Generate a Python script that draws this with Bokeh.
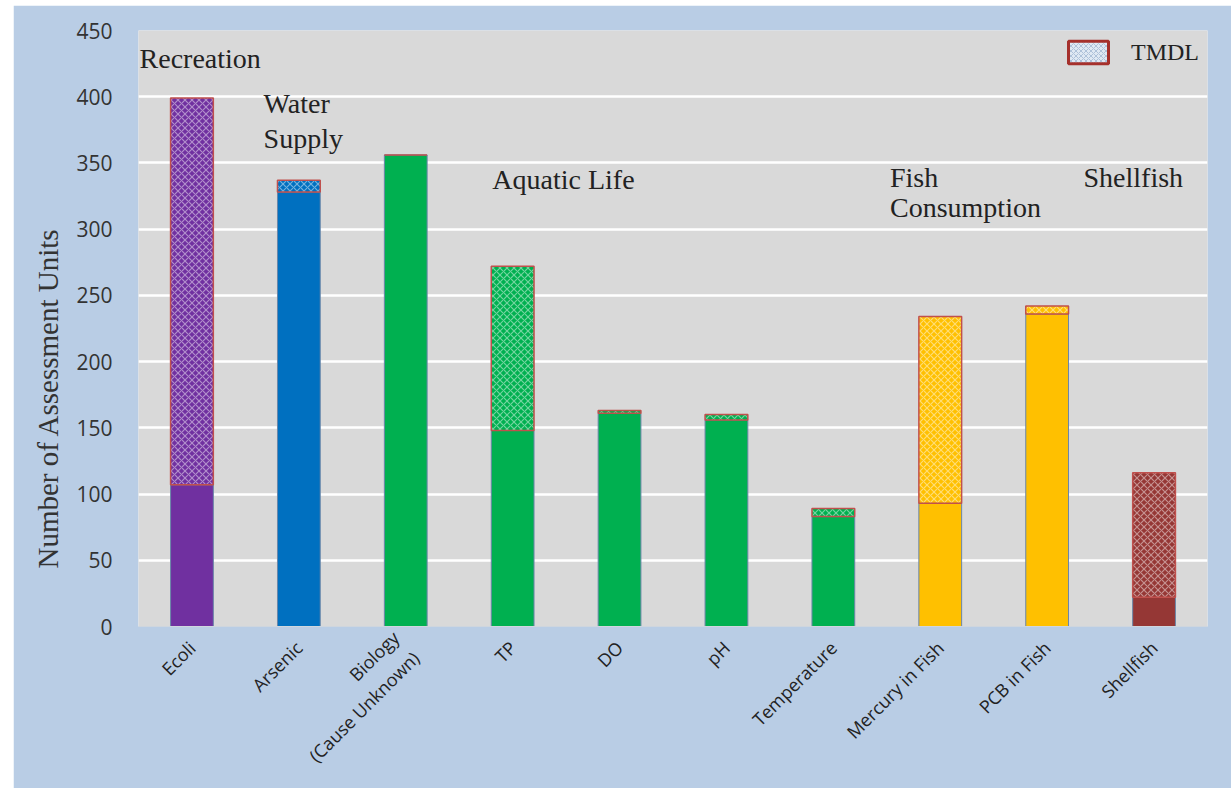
import math
from bokeh.plotting import figure
from bokeh.models import ColumnDataSource, Legend, LegendItem, FactorRange, Title, Label
from bokeh.embed import file_html
from bokeh.resources import INLINE

categories = ["Ecoli", "Arsenic", "Biology\n(Cause Unknown)", "TP", "DO", "pH",
              "Temperature", "Mercury in Fish", "PCB in Fish", "Shellfish"]
base_values = [107, 328, 356, 148, 161, 156, 83, 93, 236, 22]
tmdl_values = [292, 9, 0, 124, 2, 4, 6, 141, 6, 94]
bar_colors = ["#7030a0", "#0070c0", "#00b050", "#00b050", "#00b050", "#00b050",
              "#00b050", "#ffc000", "#ffc000", "#953735"]
y_ticks = [0, 50, 100, 150, 200, 250, 300, 350, 400, 450]

BG = "#b9cde5"
PLOT_BG = "#d9d9d9"

totals = [b + t for b, t in zip(base_values, tmdl_values)]
src = ColumnDataSource(dict(x=categories, base=base_values, top=totals,
                            color=bar_colors))

p = figure(x_range=FactorRange(*categories), y_range=(0, 450),
           width=1218, height=783, output_backend="svg", toolbar_location=None,
           min_border_left=125, min_border_right=24, min_border_top=25,
           min_border_bottom=160, margin=(5, 0, 0, 13))
p.border_fill_color = BG
p.background_fill_color = PLOT_BG
p.outline_line_color = None

p.vbar(x="x", top="base", bottom=0, width=0.4, source=src, fill_color="color",
       line_color="#6a86a8", line_width=1)
p.vbar(x="x", top="top", bottom="base", width=0.4, source=src, fill_color="color",
       line_color="#c0504d", line_width=1.5,
       hatch_pattern="diagonal_cross", hatch_color="white", hatch_alpha=0.45,
       hatch_scale=7, hatch_weight=1.2)

p.xgrid.grid_line_color = None
p.ygrid.grid_line_color = "white"
p.ygrid.grid_line_width = 2.5
p.yaxis.ticker = y_ticks

p.yaxis.axis_line_color = None
p.yaxis.major_tick_line_color = None
p.yaxis.minor_tick_line_color = None
p.yaxis.major_label_text_font = "Open Sans"
p.yaxis.major_label_text_font_size = "21px"
p.yaxis.major_label_text_color = "#333333"
p.yaxis.major_label_standoff = 20

ytitle = Title(text="Number of Assessment Units", align="left", offset=58,
               text_font="Liberation Serif", text_font_size="29px",
               text_font_style="normal", text_color="#333333", standoff=20)
p.add_layout(ytitle, "left")

p.xaxis.axis_line_color = "#cfd6de"
p.xaxis.major_tick_line_color = None
p.xaxis.minor_tick_line_color = None
p.xaxis.major_label_orientation = math.pi / 4
p.xaxis.major_label_text_font = "Open Sans"
p.xaxis.major_label_text_font_size = "18px"
p.xaxis.major_label_text_color = "#222222"
p.xaxis.major_label_standoff = 12

# legend proxy: the TMDL segments drawn with the generic legend style, hidden on the plot
proxy = p.vbar(x="x", top="top", bottom="base", width=0.4, source=src,
               fill_color="#dfe8f3", line_color="#a5302c", line_width=3,
               hatch_pattern="diagonal_cross", hatch_color="#a9bdd6",
               hatch_alpha=0.9, hatch_scale=5, hatch_weight=1, visible=False)
legend = Legend(items=[LegendItem(label="TMDL", renderers=[proxy])],
                location="top_right", orientation="horizontal",
                background_fill_alpha=0, border_line_color=None,
                inactive_fill_alpha=0, inactive_fill_color=PLOT_BG,
                glyph_width=50, glyph_height=28, padding=4, spacing=10, margin=8,
                label_text_font="Liberation Serif", label_text_font_size="24px",
                label_text_color="#222222", label_standoff=18)
p.add_layout(legend)

group_labels = [("Recreation", 0.01, 417), ("Water", 1.17, 383), ("Supply", 1.17, 357),
                ("Aquatic Life", 3.31, 326), ("Fish", 7.03, 327),
                ("Consumption", 7.03, 305), ("Shellfish", 8.84, 327)]
for txt, gx, gy in group_labels:
    p.add_layout(Label(x=gx, y=gy, text=txt, text_font="Liberation Serif",
                       text_font_size="28px", text_color="#222222"))

open("out.html", "w").write(file_html(p, INLINE))
